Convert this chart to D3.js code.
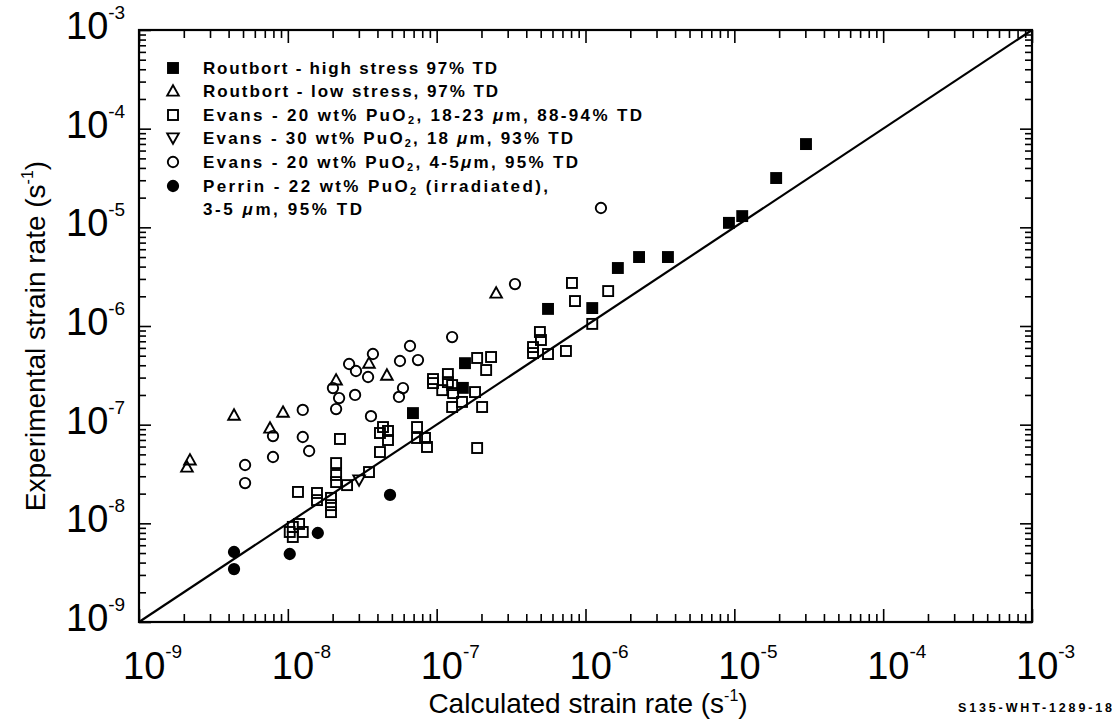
<!DOCTYPE html>
<html>
<head>
<meta charset="utf-8">
<script src="https://cdn.jsdelivr.net/npm/d3@7"></script>
<style>
  body { margin: 0; background: #fff; }
  svg { display: block; }
  text { font-family: "Liberation Sans", Arial, Helvetica, sans-serif; fill: #000; }
  .legend text { font-weight: bold; font-size: 17px; }
</style>
</head>
<body>
<svg id="chart" width="1117" height="719"></svg>
<script>
// decades shown on both axes
const decades = [-9, -8, -7, -6, -5, -4, -3];

// Routbort - high stress 97% TD  [calculated, experimental]
const routbortHigh = [
  [6.93e-8, 1.31e-7], [1.55e-7, 4.2e-7], [1.50e-7, 2.36e-7], [5.6e-7, 1.49e-6],
  [1.11e-6, 1.52e-6], [1.65e-6, 3.87e-6], [2.29e-6, 5.0e-6], [3.58e-6, 5.0e-6],
  [9.2e-6, 1.11e-5], [1.13e-5, 1.30e-5], [1.91e-5, 3.16e-5], [3.03e-5, 6.98e-5]
];

// Routbort - low stress, 97% TD
const routbortLow = [
  [2.2e-9, 4.39e-8], [2.1e-9, 3.72e-8], [4.35e-9, 1.25e-7], [7.59e-9, 9.25e-8],
  [9.28e-9, 1.34e-7], [2.11e-8, 2.84e-7], [3.51e-8, 4.2e-7], [4.63e-8, 3.18e-7],
  [2.51e-7, 2.16e-6]
];

// Evans - 20 wt% PuO2, 18-23 um
const evans20a = [
  [2.24e-8, 7.16e-8], [2.11e-8, 4.08e-8], [1.17e-8, 2.08e-8], [1.57e-8, 2.03e-8],
  [1.57e-8, 1.72e-8], [2.11e-8, 3.09e-8], [2.11e-8, 2.62e-8], [2.50e-8, 2.44e-8],
  [3.51e-8, 3.31e-8], [4.16e-8, 5.28e-8], [1.95e-8, 1.81e-8], [1.95e-8, 1.53e-8],
  [1.95e-8, 1.30e-8], [1.08e-8, 9.2e-9], [1.08e-8, 7.27e-9], [1.19e-8, 9.85e-9],
  [1.26e-8, 8.17e-9], [1.03e-8, 8.17e-9], [4.36e-8, 9.46e-8], [4.71e-8, 8.63e-8],
  [4.16e-8, 8.23e-8], [4.71e-8, 6.99e-8], [7.38e-8, 9.46e-8], [7.38e-8, 7.33e-8],
  [8.35e-8, 7.33e-8], [8.61e-8, 5.94e-8], [1.87e-7, 5.80e-8], [9.45e-8, 2.90e-7],
  [9.45e-8, 2.64e-7], [1.19e-7, 3.26e-7], [1.19e-7, 2.70e-7], [1.27e-7, 2.52e-7],
  [1.09e-7, 2.24e-7], [1.29e-7, 2.09e-7], [1.81e-7, 2.14e-7], [1.48e-7, 1.70e-7],
  [1.27e-7, 1.51e-7], [2.02e-7, 1.51e-7], [1.87e-7, 4.74e-7], [2.32e-7, 4.85e-7],
  [2.15e-7, 3.58e-7], [4.44e-7, 6.12e-7], [4.44e-7, 5.32e-7], [4.94e-7, 8.69e-7],
  [5.02e-7, 7.21e-7], [5.6e-7, 5.2e-7], [7.39e-7, 5.58e-7], [8.11e-7, 2.73e-6],
  [8.50e-7, 1.79e-6], [1.42e-6, 2.26e-6], [1.11e-6, 1.05e-6]
];

// Evans - 30 wt% PuO2, 18 um
const evans30 = [
  [3.01e-8, 2.75e-8]
];

// Evans - 20 wt% PuO2, 4-5 um
const evans20b = [
  [3.36e-7, 2.66e-6], [1.27e-7, 7.72e-7], [6.62e-8, 6.27e-7], [3.73e-8, 5.2e-7],
  [2.58e-8, 4.12e-7], [2.87e-8, 3.50e-7], [5.67e-8, 4.42e-7], [7.49e-8, 4.52e-7],
  [3.46e-8, 3.04e-7], [2.01e-8, 2.35e-7], [2.21e-8, 1.86e-7], [2.83e-8, 2.00e-7],
  [5.94e-8, 2.35e-7], [5.58e-8, 1.91e-7], [3.62e-8, 1.22e-7], [1.26e-8, 1.41e-7],
  [2.11e-8, 1.44e-7], [7.95e-9, 7.67e-8], [1.26e-8, 7.50e-8], [1.39e-8, 5.41e-8],
  [7.95e-9, 4.70e-8], [5.16e-9, 3.90e-8], [5.16e-9, 2.56e-8], [1.27e-6, 1.57e-5]
];

// Perrin - 22 wt% PuO2 (irradiated)
const perrin = [
  [4.86e-8, 1.94e-8], [1.59e-8, 7.98e-9], [4.35e-9, 5.12e-9], [4.35e-9, 3.44e-9],
  [1.03e-8, 4.89e-9]
];

const seriesList = [
  { data: routbortHigh, marker: 'squareFilled' },
  { data: routbortLow, marker: 'triangleUp' },
  { data: evans20a, marker: 'square' },
  { data: evans30, marker: 'triangleDown' },
  { data: evans20b, marker: 'circle' },
  { data: perrin, marker: 'circleFilled' }
];

const svg = d3.select('#chart');

const plotLeft = 139, plotRight = 1032, plotTop = 30, plotBottom = 622;

const x = d3.scaleLog().domain([1e-9, 1e-3]).range([plotLeft, plotRight]);
const y = d3.scaleLog().domain([1e-9, 1e-3]).range([plotBottom, plotTop]);

// ticks: majors at decades, minors at 2..9
const majorTicks = decades.map(d => Math.pow(10, d));
const minorTicks = [];
decades.slice(0, -1).forEach(d => {
  for (let k = 2; k <= 9; k++) minorTicks.push(k * Math.pow(10, d));
});

const styleAxis = g => {
  g.select('.domain').remove();
  g.selectAll('.tick line').attr('stroke', '#000').attr('stroke-width', 1.6);
  g.selectAll('.tick text').remove();
};

svg.append('g').attr('transform', `translate(0,${plotBottom})`)
  .call(d3.axisBottom(x).tickValues(majorTicks).tickSize(-13).tickFormat('')).call(styleAxis);
svg.append('g').attr('transform', `translate(0,${plotBottom})`)
  .call(d3.axisBottom(x).tickValues(minorTicks).tickSize(-8).tickFormat('')).call(styleAxis);
svg.append('g').attr('transform', `translate(0,${plotTop})`)
  .call(d3.axisTop(x).tickValues(majorTicks).tickSize(-13).tickFormat('')).call(styleAxis);
svg.append('g').attr('transform', `translate(0,${plotTop})`)
  .call(d3.axisTop(x).tickValues(minorTicks).tickSize(-8).tickFormat('')).call(styleAxis);
svg.append('g').attr('transform', `translate(${plotLeft},0)`)
  .call(d3.axisLeft(y).tickValues(majorTicks).tickSize(-12).tickFormat('')).call(styleAxis);
svg.append('g').attr('transform', `translate(${plotLeft},0)`)
  .call(d3.axisLeft(y).tickValues(minorTicks).tickSize(-7).tickFormat('')).call(styleAxis);
svg.append('g').attr('transform', `translate(${plotRight},0)`)
  .call(d3.axisRight(y).tickValues(majorTicks).tickSize(-12).tickFormat('')).call(styleAxis);
svg.append('g').attr('transform', `translate(${plotRight},0)`)
  .call(d3.axisRight(y).tickValues(minorTicks).tickSize(-7).tickFormat('')).call(styleAxis);

// frame
svg.append('rect')
  .attr('x', plotLeft).attr('y', plotTop)
  .attr('width', plotRight - plotLeft).attr('height', plotBottom - plotTop)
  .attr('fill', 'none').attr('stroke', '#000').attr('stroke-width', 2.2);

// x tick labels
const xLab = svg.append('g').selectAll('text')
  .data(decades)
  .enter()
  .append('text')
  .attr('x', d => x(Math.pow(10, d)) - 16)
  .attr('y', 679)
  .attr('font-size', 38);
xLab.append('tspan').text('10');
xLab.append('tspan').attr('font-size', 19).attr('dy', -21).text(d => '-' + Math.abs(d));

// y tick labels
const yLab = svg.append('g').selectAll('text')
  .data(decades)
  .enter()
  .append('text')
  .attr('x', 66)
  .attr('y', d => y(Math.pow(10, d)) + 9)
  .attr('font-size', 38);
yLab.append('tspan').text('10');
yLab.append('tspan').attr('font-size', 19).attr('dy', -20).text(d => '-' + Math.abs(d));

// axis titles
const xt = svg.append('text')
  .attr('x', 588).attr('y', 713)
  .attr('text-anchor', 'middle')
  .attr('font-size', 28);
xt.append('tspan').text('Calculated strain rate (s');
xt.append('tspan').attr('font-size', 16).attr('dy', -12).text('-1');
xt.append('tspan').attr('dy', 12).text(')');

const yt = svg.append('text')
  .attr('transform', 'translate(45,336) rotate(-90)')
  .attr('text-anchor', 'middle')
  .attr('font-size', 28);
yt.append('tspan').text('Experimental strain rate (s');
yt.append('tspan').attr('font-size', 16).attr('dy', -12).text('-1');
yt.append('tspan').attr('dy', 12).text(')');

// 1:1 line
svg.append('line')
  .attr('x1', x(1e-9)).attr('y1', y(1e-9))
  .attr('x2', x(1e-3)).attr('y2', y(1e-3))
  .attr('stroke', '#000').attr('stroke-width', 2.2);

const drawMarker = (g, type, cx, cy) => {
  const s = 5;
  const sw = 1.9;
  if (type == 'squareFilled' || type == 'square') {
    g.append('rect')
      .attr('x', cx - s).attr('y', cy - s)
      .attr('width', 2 * s).attr('height', 2 * s)
      .attr('fill', type == 'squareFilled' ? '#000' : 'none')
      .attr('stroke', '#000').attr('stroke-width', sw);
  } else if (type == 'circle' || type == 'circleFilled') {
    g.append('circle')
      .attr('cx', cx).attr('cy', cy).attr('r', 5.2)
      .attr('fill', type == 'circleFilled' ? '#000' : 'none')
      .attr('stroke', '#000').attr('stroke-width', sw);
  } else if (type == 'triangleUp') {
    g.append('path')
      .attr('d', `M${cx},${cy - 5.8}L${cx + 5.8},${cy + 4.6}L${cx - 5.8},${cy + 4.6}Z`)
      .attr('fill', 'none').attr('stroke', '#000').attr('stroke-width', sw);
  } else {
    g.append('path')
      .attr('d', `M${cx},${cy + 5.8}L${cx + 5.8},${cy - 4.6}L${cx - 5.8},${cy - 4.6}Z`)
      .attr('fill', 'none').attr('stroke', '#000').attr('stroke-width', sw);
  }
};

// data points
const pts = svg.append('g');
seriesList.forEach(s => {
  s.data.forEach(p => drawMarker(pts, s.marker, x(p[0]), y(p[1])));
});

// legend
const legend = svg.append('g').attr('class', 'legend');
const legendRows = [68, 91, 115, 138, 162, 186];
seriesList.forEach((s, i) => drawMarker(legend, s.marker, 173, legendRows[i]));

const addLine = (row, width, parts) => {
  const t = legend.append('text').attr('x', 203).attr('y', row + 6)
    .attr('textLength', width).attr('lengthAdjust', 'spacing');
  parts.forEach(p => {
    const sp = t.append('tspan').text(p.t);
    if (p.sub) sp.attr('font-size', 11).attr('dy', 3);
    if (p.up) sp.attr('dy', -3);
    if (p.it) sp.attr('font-style', 'italic');
  });
};
addLine(68, 294, [{ t: 'Routbort - high stress 97% TD' }]);
addLine(91, 295, [{ t: 'Routbort - low stress, 97% TD' }]);
addLine(115, 439, [{ t: 'Evans - 20 wt% PuO' }, { t: '2', sub: true }, { t: ', 18-23 ', up: true }, { t: 'μ', it: true }, { t: 'm, 88-94% TD' }]);
addLine(138, 370, [{ t: 'Evans - 30 wt% PuO' }, { t: '2', sub: true }, { t: ', 18 ', up: true }, { t: 'μ', it: true }, { t: 'm, 93% TD' }]);
addLine(162, 375, [{ t: 'Evans - 20 wt% PuO' }, { t: '2', sub: true }, { t: ', 4-5', up: true }, { t: 'μ', it: true }, { t: 'm, 95% TD' }]);
addLine(186, 345, [{ t: 'Perrin  - 22 wt% PuO' }, { t: '2', sub: true }, { t: ' (irradiated),', up: true }]);
addLine(209, 159, [{ t: '3-5 ' }, { t: 'μ', it: true }, { t: 'm, 95% TD' }]);

// figure code
svg.append('text')
  .attr('x', 958).attr('y', 712)
  .attr('font-size', 12.5).attr('font-weight', 'bold')
  .attr('textLength', 154).attr('lengthAdjust', 'spacing')
  .text('S135-WHT-1289-18');
</script>
</body>
</html>
